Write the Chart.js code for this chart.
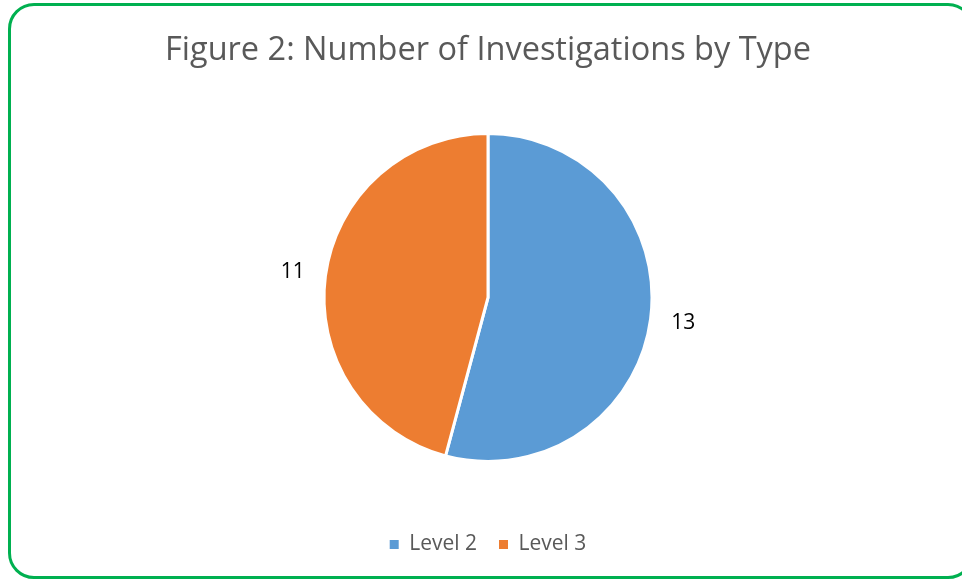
<!DOCTYPE html>
<html>
<head>
<meta charset="utf-8">
<script src="https://cdn.jsdelivr.net/npm/chart.js@4.4.1/dist/chart.umd.min.js"></script>
<style>
    html, body { margin: 0; padding: 0; background: #ffffff; overflow: hidden; }
    #wrap { position: relative; width: 962px; height: 579px; }
    #frame {
        position: absolute; left: 8px; top: 3px; width: 966px; height: 576px;
        box-sizing: border-box; border: 3px solid #00B050; border-radius: 26px;
        pointer-events: none;
    }
</style>
</head>
<body>
<div id="wrap">
    <canvas id="myChart" width="962" height="579"></canvas>
    <div id="frame"></div>
</div>
<script>
const categorias = ['Level 2', 'Level 3'];
const conteos = [13, 11];
const colores = ['#5B9BD5', '#ED7D31'];
const tituloTexto = 'Figure 2: Number of Investigations by Type';

// etiquetas de valor fuera del pastel
const etiquetasFuera = {
    id: 'etiquetasFuera',
    afterDatasetsDraw(chart) {
        const ctx = chart.ctx;
        const meta = chart.getDatasetMeta(0);
        ctx.save();
        ctx.font = '21px "Open Sans", sans-serif';
        ctx.fillStyle = '#000000';
        ctx.textAlign = 'center';
        ctx.textBaseline = 'middle';
        meta.data.forEach((arc, i) => {
            const mid = (arc.startAngle + arc.endAngle) / 2;
            const r = arc.outerRadius + 33;
            ctx.fillText(String(conteos[i]), arc.x + Math.cos(mid) * r, arc.y + Math.sin(mid) * r);
        });
        ctx.restore();
    }
};

document.addEventListener('DOMContentLoaded', (event) => {
    const ctx = document.getElementById('myChart').getContext('2d');
    const myChart = new Chart(ctx, {
        type: 'pie',
        data: {
            labels: categorias,
            datasets: [{
                data: conteos,
                backgroundColor: colores,
                borderColor: '#ffffff',
                borderWidth: 3
            }]
        },
        plugins: [etiquetasFuera],
        options: {
            responsive: false,
            animation: false,
            radius: 164,
            layout: {
                padding: { left: 14, right: 0, top: 0, bottom: 14 }
            },
            plugins: {
                legend: {
                    position: 'bottom',
                    labels: {
                        boxWidth: 9,
                        boxHeight: 9,
                        color: '#595959',
                        padding: 22,
                        font: { family: '"Open Sans", sans-serif', size: 21 },
                        generateLabels: (chart) => {
                            // cuadros de la leyenda sin borde blanco
                            const items = Chart.controllers.pie.overrides.plugins.legend.labels.generateLabels(chart);
                            return items.map(item => Object.assign(item, { lineWidth: 0 }));
                        }
                    }
                },
                title: {
                    display: true,
                    text: tituloTexto,
                    color: '#595959',
                    font: { family: '"Open Sans", sans-serif', size: 32.5, weight: 'normal' },
                    padding: { top: 31, bottom: 13 }
                },
                tooltip: { enabled: false }
            }
        }
    });
});
</script>
</body>
</html>
